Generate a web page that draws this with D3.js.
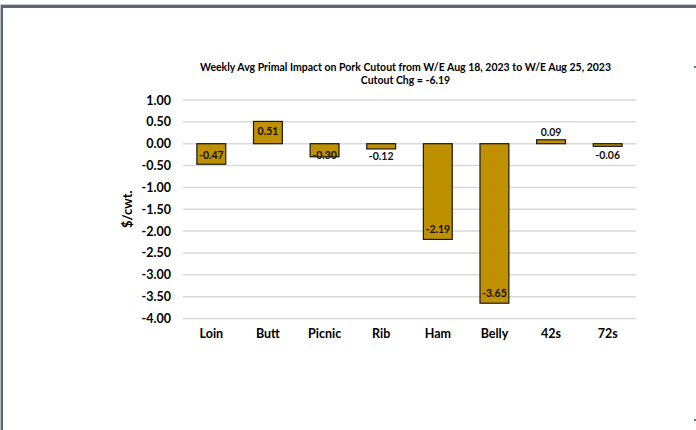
<!DOCTYPE html>
<html>
<head>
<meta charset="utf-8">
<script src="https://cdn.jsdelivr.net/npm/d3@7"></script>
<style>
  body { margin: 0; background: #fff; }
  svg { display: block; font-family: Lato, "Open Sans", sans-serif; }
</style>
</head>
<body>
<div id="chart"></div>
<script>
const categories = ['Loin', 'Butt', 'Picnic', 'Rib', 'Ham', 'Belly', '42s', '72s'];
const impacts = [-0.47, 0.51, -0.30, -0.12, -2.19, -3.65, 0.09, -0.06];
const yTicks = [1, 0.5, 0, -0.5, -1, -1.5, -2, -2.5, -3, -3.5, -4];
const titleLines = [
  'Weekly Avg Primal Impact on Pork Cutout from W/E Aug 18, 2023 to W/E Aug 25, 2023',
  'Cutout Chg = -6.19'
];
const yLabel = '$/cwt.';

const W = 696, H = 430;
const m = { t: 100, r: 60, b: 111.5, l: 183 };

// plain hyphen for negatives, like the source spreadsheet
const fmt = d3.formatLocale({
  decimal: '.', thousands: ',', grouping: [3], currency: ['$', ''], minus: '-'
}).format('.2f');

const svg = d3.select('#chart').append('svg')
    .attr('width', W)
    .attr('height', H);

// window frame
svg.append('rect').attr('x', 0).attr('y', 4).attr('width', W).attr('height', 1).attr('fill', '#c9cdd2');
svg.append('rect').attr('x', 0).attr('y', 5).attr('width', W).attr('height', 3).attr('fill', '#5d6873');
svg.append('rect').attr('x', 0).attr('y', 5).attr('width', 1).attr('height', H).attr('fill', '#b8bec4');
svg.append('rect').attr('x', 1).attr('y', 5).attr('width', 2).attr('height', H).attr('fill', '#5d6873');
svg.append('rect').attr('x', 694).attr('y', 66).attr('width', 2).attr('height', 2).attr('fill', '#6b7580');
svg.append('rect').attr('x', 694).attr('y', 419).attr('width', 2).attr('height', 2).attr('fill', '#6b7580');

const x = d3.scaleBand()
    .domain(categories)
    .range([m.l, 636])
    .paddingInner(0.49)
    .paddingOuter(0.245);

const y = d3.scaleLinear()
    .domain([-4, 1])
    .range([H - m.b, m.t]);

// gridlines
svg.append('g')
    .attr('class', 'grid')
    .selectAll('line')
    .data(yTicks)
    .join('line')
    .attr('x1', m.l)
    .attr('x2', 636)
    .attr('y1', d => y(d))
    .attr('y2', d => y(d))
    .attr('stroke', '#d9d9d9')
    .attr('stroke-width', 1.5);

// y axis tick labels
const yAxis = svg.append('g')
    .attr('transform', `translate(${m.l},0)`)
    .call(d3.axisLeft(y).tickValues(yTicks).tickFormat(fmt).tickSize(0).tickPadding(12));
yAxis.select('.domain').remove();
yAxis.selectAll('text')
    .attr('font-family', 'Lato, sans-serif')
    .attr('font-size', 12.5)
    .attr('font-weight', 'bold')
    .attr('fill', '#000');

// x axis category labels
const xAxis = svg.append('g')
    .attr('transform', `translate(0,${y(-4)})`)
    .call(d3.axisBottom(x).tickSize(0).tickPadding(11));
xAxis.select('.domain').remove();
xAxis.selectAll('text')
    .attr('font-family', 'Lato, sans-serif')
    .attr('font-size', 12.5)
    .attr('font-weight', 'bold')
    .attr('fill', '#000');

// bars
const y0 = y(0);
svg.append('g')
    .selectAll('rect')
    .data(impacts)
    .join('rect')
    .attr('x', (d, i) => x(categories[i]))
    .attr('width', x.bandwidth())
    .attr('y', d => Math.min(y(d), y0))
    .attr('height', d => Math.abs(y(d) - y0))
    .attr('fill', '#bf9000')
    .attr('stroke', '#1a1a1a')
    .attr('stroke-width', 1.2);

// value labels
svg.append('g')
    .selectAll('text')
    .data(impacts)
    .join('text')
    .attr('x', (d, i) => x(categories[i]) + x.bandwidth() / 2)
    .attr('y', d => {
      const inside = Math.abs(d) >= 0.25;
      if (d < 0) return Math.max(inside ? y(d) - 10 : y(d) + 7, y0 + 11.5);
      return Math.min(inside ? y(d) + 10 : y(d) - 7, y0 - 11);
    })
    .attr('dy', '0.35em')
    .attr('text-anchor', 'middle')
    .attr('font-family', 'Lato, sans-serif')
    .attr('font-size', 10.5)
    .attr('font-weight', 'bold')
    .attr('fill', '#111')
    .text(d => fmt(d));

// y axis title
svg.append('text')
    .attr('transform', `translate(127,${(y(1) + y(-4)) / 2}) rotate(-90)`)
    .attr('dy', '0.35em')
    .attr('text-anchor', 'middle')
    .attr('font-family', 'Lato, sans-serif')
    .attr('font-size', 13)
    .attr('font-weight', 'bold')
    .text(yLabel);

// chart title
svg.append('g')
    .selectAll('text')
    .data(titleLines)
    .join('text')
    .attr('x', 405.5)
    .attr('y', (d, i) => 67 + i * 13)
    .attr('dy', '0.35em')
    .attr('text-anchor', 'middle')
    .attr('font-family', 'Lato, sans-serif')
    .attr('font-size', 10.5)
    .attr('font-weight', 'bold')
    .text(d => d);
</script>
</body>
</html>
